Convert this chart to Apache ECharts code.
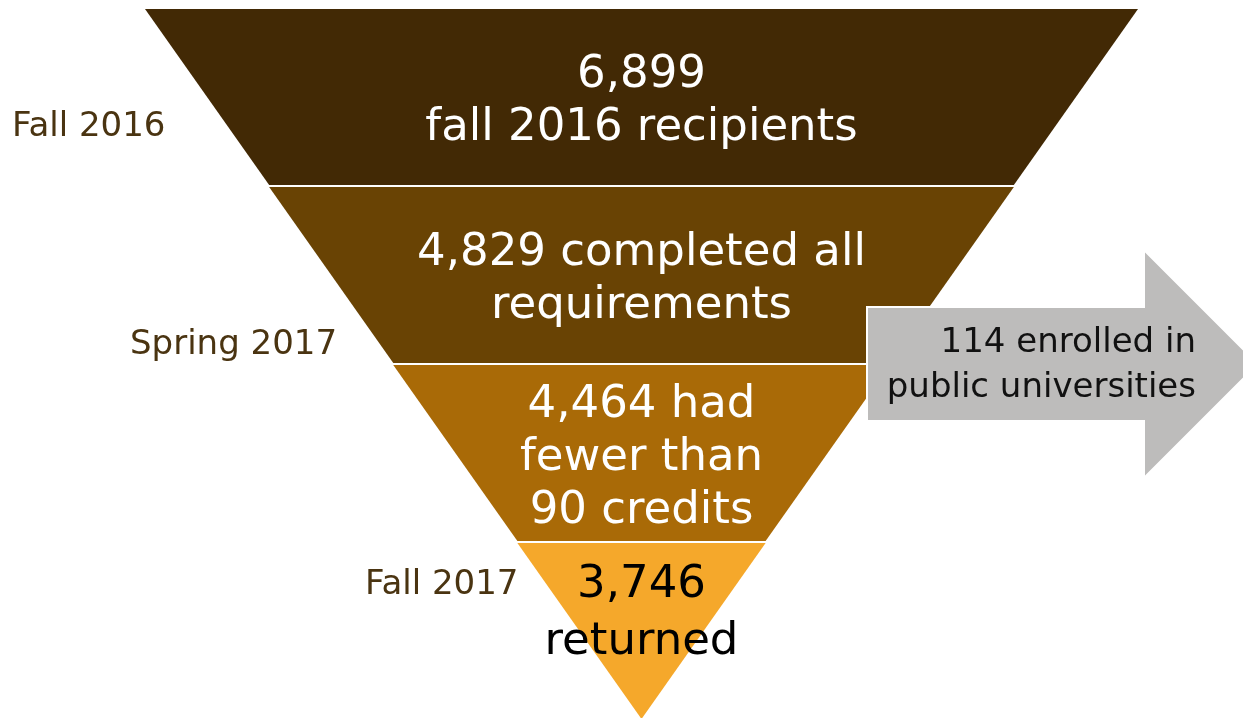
<!DOCTYPE html>
<html>
<head>
<meta charset="utf-8">
<script src="https://cdn.jsdelivr.net/npm/echarts@6/dist/echarts.min.js"></script>
<style>
  html, body { margin: 0; padding: 0; background: #fff; }
  #chart { width: 1243px; height: 718px; }
</style>
</head>
<body>
<div id="chart"></div>
<script>
// funnel stages, top to bottom
const counts = [6899, 4829, 4464, 3746]
const stageText = ['\nfall 2016 recipients', ' completed all\nrequirements', ' had\nfewer than\n90 credits', '\nreturned']
// relative width of each band's top edge, as drawn in the picture
const bandWidth = [100, 75, 50, 25]
const bandColors = ['#422905', '#694304', '#A96A07', '#F5A82B']
const labelColors = ['#ffffff', '#ffffff', '#ffffff', '#000000']
const terms = ['Fall 2016', 'Spring 2017', 'Fall 2017']
const transferred = 114

const font = 'DejaVu Sans'

const chart = echarts.init(document.getElementById('chart'))

const funnelData = counts.map((c, i) => ({
    value: bandWidth[i],
    name: 'stage' + i,
    itemStyle: { color: bandColors[i] },
    label: {
        color: labelColors[i],
        formatter: c.toLocaleString('en-US') + stageText[i],
        lineHeight: i == 3 ? 57 : 53
    }
}))

const termLabel = (text, x, y) => ({
    type: 'text', x: x, y: y,
    style: { text: text, fill: '#4A3411', fontFamily: font, fontSize: 34, verticalAlign: 'middle' }
})

chart.setOption({
    animation: false,
    series: [
        {
            type: 'funnel',
            sort: 'none',
            left: 145,
            top: 9,
            width: 993,
            height: 710,
            min: 0,
            max: 100,
            minSize: '0%',
            maxSize: '100%',
            gap: 2,
            label: {
                show: true,
                position: 'inside',
                fontFamily: font,
                fontSize: 45
            },
            // last label sits above the middle of its narrow band
            labelLayout: (params) => ({ dy: params.dataIndex == 3 ? -17 : 5 }),
            labelLine: { show: false },
            itemStyle: { borderWidth: 0 },
            data: funnelData
        }
    ],
    graphic: [
        {
            type: 'polygon',
            z: 100,
            shape: {
                points: [[867, 307], [1144, 307], [1144, 250], [1258, 364], [1144, 478], [1144, 421], [867, 421]]
            },
            style: { fill: '#BDBCBB', stroke: '#ffffff', lineWidth: 2 }
        },
        {
            type: 'text',
            z: 101,
            x: 1196,
            y: 366,
            style: {
                text: transferred + ' enrolled in\npublic universities',
                fill: '#111111',
                fontFamily: font,
                fontSize: 34,
                lineHeight: 45,
                align: 'right',
                verticalAlign: 'middle'
            }
        },
        termLabel(terms[0], 12, 127),
        termLabel(terms[1], 130, 345),
        termLabel(terms[2], 365, 585)
    ]
})
</script>
</body>
</html>
